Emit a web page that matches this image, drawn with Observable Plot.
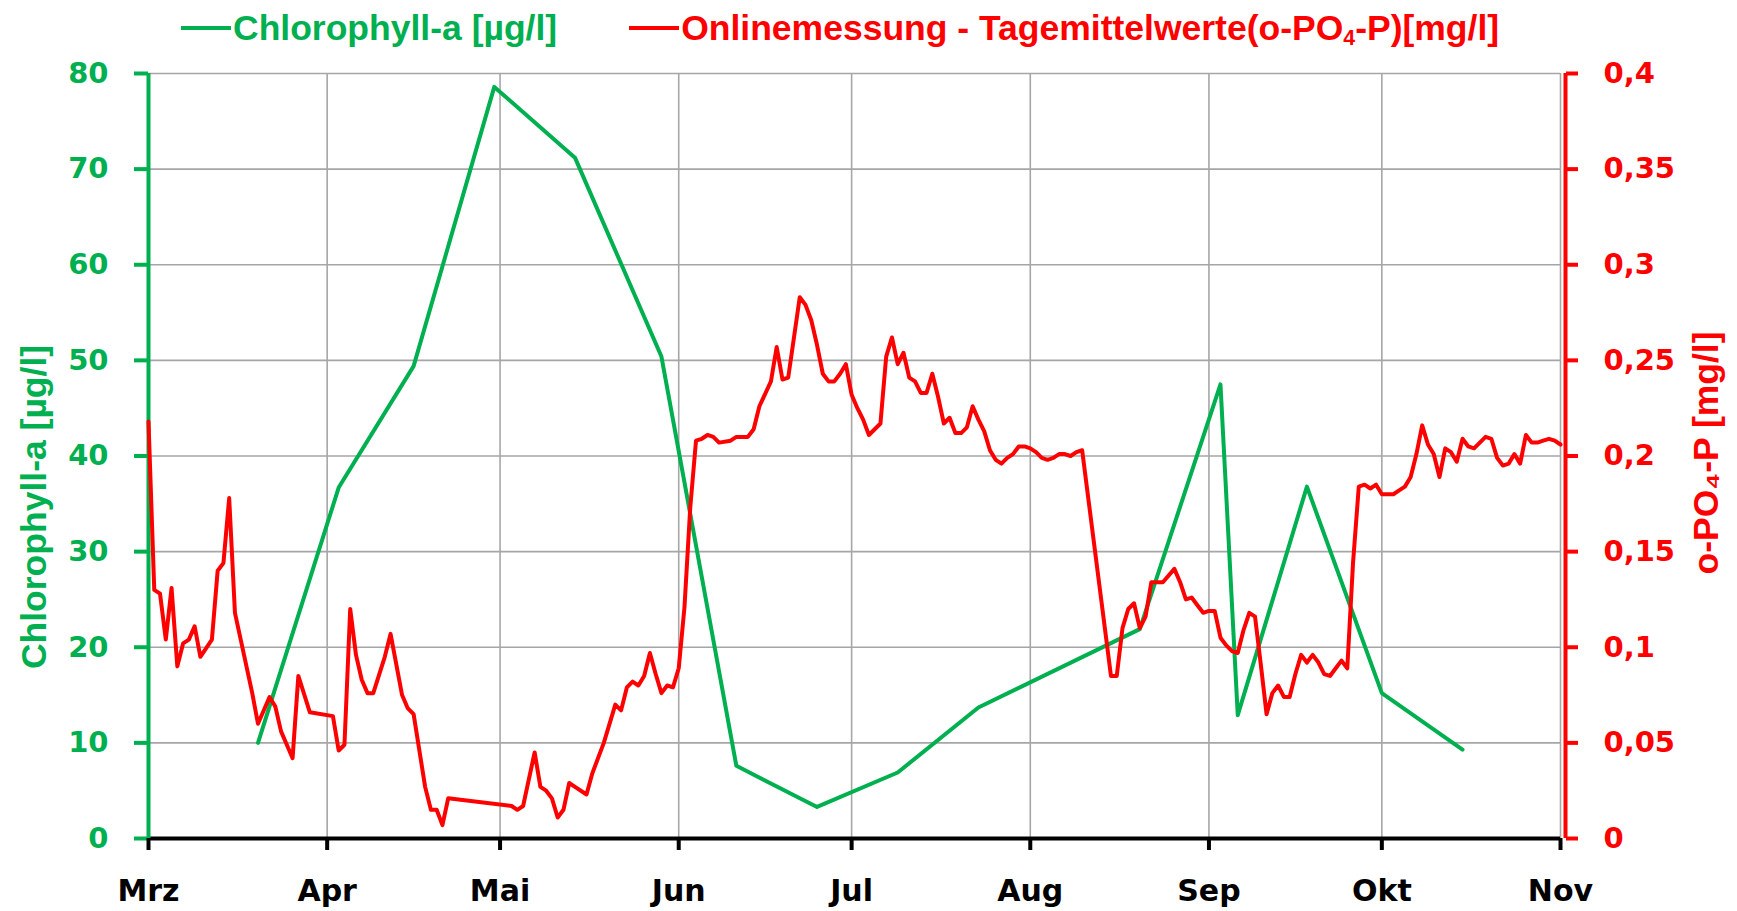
<!DOCTYPE html>
<html>
<head>
<meta charset="utf-8">
<script src="https://cdn.jsdelivr.net/npm/d3@7"></script>
<script src="https://cdn.jsdelivr.net/npm/@observablehq/plot@0.6"></script>
<style>
  body { margin: 0; background: #fff; }
  #legend {
    height: 48px; display: flex; align-items: center; padding-left: 181px;
    font-family: "Liberation Sans", Arial, sans-serif; font-weight: bold; font-size: 35.5px;
    box-sizing: border-box; padding-top: 8px;
  }
  #legend .item { display: flex; align-items: center; white-space: nowrap; }
  #legend .item + .item { margin-left: 72px; }
  #legend .sw { display: inline-block; width: 50px; height: 4px; margin-right: 2px; }
  #legend sub { font-size: 60%; vertical-align: -0.25em; line-height: 0; }
</style>
</head>
<body>
<div id="legend"></div>
<div id="chart"></div>
<script>
// ---- data ----
const monthLabels = ["Mrz", "Apr", "Mai", "Jun", "Jul", "Aug", "Sep", "Okt", "Nov"];
const chlTicks = [0, 10, 20, 30, 40, 50, 60, 70, 80];
const phosTicks = [0, 0.05, 0.1, 0.15, 0.2, 0.25, 0.3, 0.35, 0.4];

const chlDates = ["2019-03-20", "2019-04-03", "2019-04-16", "2019-04-30", "2019-05-14", "2019-05-29",
  "2019-06-11", "2019-06-25", "2019-07-09", "2019-07-23", "2019-08-20", "2019-09-03",
  "2019-09-06", "2019-09-18", "2019-10-01", "2019-10-15"];
const chlValues = [10.0, 36.7, 49.4, 78.6, 71.2, 50.4, 7.6, 3.3, 6.9, 13.7, 21.9, 47.5, 12.9, 36.8, 15.2, 9.3];

// days after 1 March
const phosDays = [0, 1, 2, 3, 4, 5, 6, 7, 8, 9, 11, 12, 13, 14, 15, 18, 19, 21, 22, 23, 24, 25, 26, 28, 32, 33, 34, 35,
  36, 37, 38, 39, 41, 42, 44, 45, 46, 48, 49, 50, 51, 52, 63, 64, 65, 67, 68, 69, 70, 71, 72, 73, 74, 76, 77, 79,
  81, 82, 83, 84, 85, 86, 87, 88, 89, 90, 91, 92, 93, 94, 95, 96, 97, 98, 99, 101, 102, 104, 105, 106, 108, 109,
  110, 111, 113, 114, 115, 116, 117, 118, 119, 120, 121, 122, 123, 124, 125, 127, 128, 129, 130, 131, 132, 133,
  134, 135, 136, 137, 138, 139, 140, 141, 142, 143, 144, 145, 146, 147, 148, 149, 150, 151, 152, 153, 154, 155,
  156, 157, 158, 159, 160, 161, 162, 167, 168, 169, 170, 171, 172, 173, 174, 176, 178, 179, 180, 181, 182, 183,
  184, 185, 186, 187, 188, 189, 190, 191, 192, 193, 194, 195, 196, 197, 198, 199, 200, 201, 202, 203, 204, 205,
  206, 207, 208, 209, 210, 211, 212, 213, 214, 216, 217, 218, 219, 220, 221, 222, 223, 224, 225, 226, 227, 228,
  229, 230, 231, 232, 233, 234, 235, 236, 237, 238, 239, 240, 241, 242, 243, 244, 245];
const phosValues = [0.218, 0.130, 0.128, 0.104, 0.131, 0.090, 0.102, 0.104, 0.111, 0.095, 0.104, 0.140, 0.144, 0.178,
  0.118, 0.076, 0.060, 0.074, 0.069, 0.056, 0.049, 0.042, 0.085, 0.066, 0.064, 0.046, 0.049, 0.120,
  0.096, 0.083, 0.076, 0.076, 0.095, 0.107, 0.075, 0.068, 0.065, 0.027, 0.015, 0.015, 0.007, 0.021, 0.017, 0.015,
  0.017, 0.045, 0.027, 0.025, 0.021, 0.011, 0.015, 0.029, 0.027, 0.023, 0.034, 0.050,
  0.070, 0.067, 0.079, 0.082, 0.080, 0.085, 0.097, 0.086, 0.076, 0.080, 0.079, 0.089, 0.121, 0.173, 0.208, 0.209,
  0.211, 0.210, 0.207, 0.208, 0.210, 0.210, 0.214, 0.226, 0.239, 0.257,
  0.240, 0.241, 0.283, 0.279, 0.271, 0.258, 0.243, 0.239, 0.239, 0.243, 0.248, 0.232, 0.225, 0.219, 0.211, 0.217,
  0.252, 0.262, 0.248, 0.254, 0.241, 0.239,
  0.233, 0.233, 0.243, 0.231, 0.217, 0.220, 0.212, 0.212, 0.215, 0.226, 0.219, 0.213, 0.203, 0.198, 0.196, 0.199,
  0.201, 0.205, 0.205, 0.204, 0.202, 0.199,
  0.198, 0.199, 0.201, 0.201, 0.200, 0.202, 0.203, 0.085, 0.085, 0.110, 0.120, 0.123, 0.110, 0.116, 0.134, 0.134,
  0.141, 0.134, 0.125, 0.126, 0.122, 0.118,
  0.119, 0.119, 0.105, 0.101, 0.098, 0.097, 0.109, 0.118, 0.116, 0.091, 0.065, 0.076, 0.080, 0.074, 0.074, 0.086,
  0.096, 0.092, 0.096, 0.092, 0.086, 0.085,
  0.089, 0.093, 0.089, 0.144, 0.184, 0.185, 0.183, 0.185, 0.180, 0.180, 0.182, 0.184, 0.189, 0.201, 0.216, 0.206,
  0.201, 0.189, 0.204, 0.202, 0.197, 0.209,
  0.205, 0.204, 0.207, 0.210, 0.209, 0.199, 0.195, 0.196, 0.201, 0.196, 0.211, 0.207, 0.207, 0.208, 0.209, 0.208, 0.206];

const GREEN = "#00b050", RED = "#ff0000", GRID = "#a6a6a6";
const legendChl = "Chlorophyll-a [µg/l]";
const legendPhos = ["Onlinemessung - Tagemittelwerte(o-PO", "4", "-P)[mg/l]"];
const titleLeft = "Chlorophyll-a [µg/l]";
const titleRight = "o-PO₄-P [mg/l]";

// ---- derived ----
const year = 2019;
const monthDates = monthLabels.map((_, i) => new Date(Date.UTC(year, 2 + i, 1)));
const startDate = monthDates[0];
const chl = chlDates.map((d, i) => ({date: new Date(d), value: chlValues[i]}));
const phos = phosDays.map((d, i) => ({date: d3.utcDay.offset(startDate, d), value: phosValues[i]}));
const factor = chlTicks[chlTicks.length - 1] / phosTicks[phosTicks.length - 1];
const deFmt = d3.formatLocale({decimal: ",", thousands: ".", grouping: [3], currency: ["", " €"]}).format("~g");

// ---- legend (HTML, above the SVG) ----
const legend = d3.select("#legend");
const it1 = legend.append("div").attr("class", "item").style("color", GREEN);
it1.append("span").attr("class", "sw").style("background", GREEN);
it1.append("span").text(legendChl);
const it2 = legend.append("div").attr("class", "item").style("color", RED);
it2.append("span").attr("class", "sw").style("background", RED);
const t2 = it2.append("span");
t2.append("span").text(legendPhos[0]);
t2.append("sub").text(legendPhos[1]);
t2.append("span").text(legendPhos[2]);

// ---- chart ----
const titleFont = "'Liberation Sans', Arial, sans-serif";
const chart = Plot.plot({
  width: 1737,
  height: 863,
  marginTop: 25,
  marginBottom: 73,
  marginLeft: 148,
  marginRight: 177,
  style: {fontFamily: "'DejaVu Sans', sans-serif", fontWeight: "bold", fontSize: "29px", background: "#fff", overflow: "visible"},
  x: {type: "utc", domain: [monthDates[0], monthDates[monthDates.length - 1]]},
  y: {domain: [chlTicks[0], chlTicks[chlTicks.length - 1]]},
  marks: [
    Plot.gridY(chlTicks, {stroke: GRID, strokeOpacity: 1, strokeWidth: 1.6}),
    Plot.gridX(monthDates, {stroke: GRID, strokeOpacity: 1, strokeWidth: 1.6}),
    Plot.ruleY([chlTicks[0]], {stroke: "#000", strokeWidth: 4}),
    Plot.ruleX([monthDates[0]], {stroke: GREEN, strokeWidth: 4}),
    Plot.ruleX([monthDates[monthDates.length - 1]], {stroke: RED, strokeWidth: 4, dx: 5}),
    Plot.axisY(chlTicks, {anchor: "left", tickSize: 14, tickPadding: 26, color: GREEN, strokeWidth: 4, label: null, tickFormat: d => String(d)}),
    Plot.axisY(chlTicks, {anchor: "right", tickSize: 12, tickPadding: 26, color: RED, strokeWidth: 4, dx: 5, label: null, tickFormat: d => deFmt(d / factor)}),
    Plot.axisX(monthDates, {anchor: "bottom", tickSize: 12, tickPadding: 29, color: "#000", strokeWidth: 4, label: null, tickFormat: d => monthLabels[d.getUTCMonth() - 2], fontSize: 30}),
    Plot.line(chl, {x: "date", y: "value", stroke: GREEN, strokeWidth: 4}),
    Plot.line(phos, {x: "date", y: d => d.value * factor, stroke: RED, strokeWidth: 4}),
    Plot.text([titleLeft], {text: d => d, frameAnchor: "left", textAnchor: "middle", rotate: -90, dx: -114, dy: 51, fill: GREEN, fontSize: 35.5, fontFamily: titleFont, fontWeight: "bold"}),
    Plot.text([titleRight], {text: d => d, frameAnchor: "right", textAnchor: "middle", rotate: -90, dx: 146, dy: -3, fill: RED, fontSize: 35.5, fontFamily: titleFont, fontWeight: "bold"})
  ]
});
document.getElementById("chart").appendChild(chart);
</script>
</body>
</html>
